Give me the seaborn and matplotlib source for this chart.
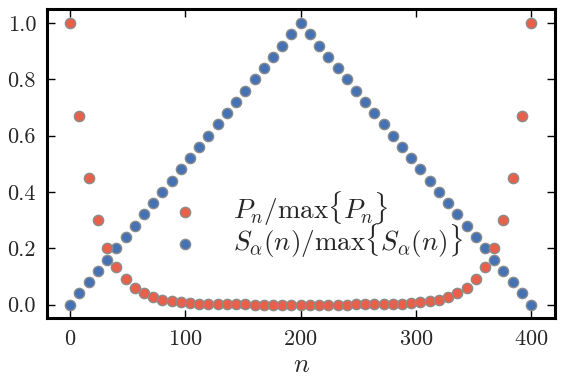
import numpy as np
import pandas as pd
import matplotlib
matplotlib.use('Agg')
import matplotlib.pyplot as plt
import seaborn as sns

# sites n = 0, 8, ..., 400
n_values = [0, 8, 16, 24, 32, 40, 48, 56, 64, 72, 80, 88, 96, 104, 112, 120, 128,
            136, 144, 152, 160, 168, 176, 184, 192, 200, 208, 216, 224, 232, 240,
            248, 256, 264, 272, 280, 288, 296, 304, 312, 320, 328, 336, 344, 352,
            360, 368, 376, 384, 392, 400]

# P_n / max{P_n}
p_norm = [1.0, 0.67, 0.45, 0.30, 0.20, 0.135, 0.09, 0.06, 0.04, 0.027, 0.018,
          0.012, 0.008, 0.005, 0.0036, 0.0024, 0.0016, 0.001, 0.0007, 0.0005,
          0.0003, 0.0002, 0.0001, 0.0001, 0.0, 0.0, 0.0, 0.0001, 0.0001, 0.0002,
          0.0003, 0.0005, 0.0007, 0.001, 0.0016, 0.0024, 0.0036, 0.005, 0.008,
          0.012, 0.018, 0.027, 0.04, 0.06, 0.09, 0.135, 0.20, 0.30, 0.45, 0.67, 1.0]

# S_alpha(n) / max{S_alpha(n)}
s_norm = [0.0, 0.04, 0.08, 0.12, 0.16, 0.20, 0.24, 0.28, 0.32, 0.36, 0.40, 0.44,
          0.48, 0.52, 0.56, 0.60, 0.64, 0.68, 0.72, 0.76, 0.80, 0.84, 0.88, 0.92,
          0.96, 1.0, 0.96, 0.92, 0.88, 0.84, 0.80, 0.76, 0.72, 0.68, 0.64, 0.60,
          0.56, 0.52, 0.48, 0.44, 0.40, 0.36, 0.32, 0.28, 0.24, 0.20, 0.16, 0.12,
          0.08, 0.04, 0.0]

df = pd.DataFrame({'n': n_values, 'P': p_norm, 'S': s_norm})

sns.set_style('ticks')
plt.rcParams['font.family'] = 'serif'
plt.rcParams['font.serif'] = ['cmr10', 'DejaVu Serif']
plt.rcParams['mathtext.fontset'] = 'cm'
plt.rcParams['axes.formatter.use_mathtext'] = True

fig, ax = plt.subplots(figsize=(5.62, 3.87), dpi=100)
fig.subplots_adjust(left=0.084, right=0.988, top=0.977, bottom=0.178)

orange = '#E8604A'
blue = '#4472B4'
edge = '#8C8C8C'

sns.scatterplot(data=df, x='n', y='S', ax=ax, color=blue, edgecolor=edge,
                linewidth=1.0, s=55, label=r'$S_\alpha(n)/\max\{S_\alpha(n)\}$', zorder=3)
sns.scatterplot(data=df, x='n', y='P', ax=ax, color=orange, edgecolor=edge,
                linewidth=1.0, s=55, label=r'$P_n/\max\{P_n\}$', zorder=4)

ax.set_xlim(-20, 421)
ax.set_ylim(-0.048, 1.05)
ax.set_xticks([0, 100, 200, 300, 400])
ax.set_yticks([0.0, 0.2, 0.4, 0.6, 0.8, 1.0])
ax.set_yticklabels(['0.0', '0.2', '0.4', '0.6', '0.8', '1.0'])
ax.set_xlabel(r'$n$', fontsize=19, labelpad=3)
ax.set_ylabel('')

ax.tick_params(direction='in', top=True, right=True, length=6, width=1,
               labelsize=16, pad=8, color='black')
for sp in ax.spines.values():
    sp.set_linewidth(2.2)
    sp.set_color('black')
    sp.set_visible(True)

handles, labels = ax.get_legend_handles_labels()
ax.legend(handles[::-1], labels[::-1], loc='center left', bbox_to_anchor=(0.217, 0.301),
          frameon=False, fontsize=19.5, handletextpad=0.8, labelspacing=-0.25,
          borderaxespad=0, borderpad=0)

fig.savefig('out.png', dpi=100)
